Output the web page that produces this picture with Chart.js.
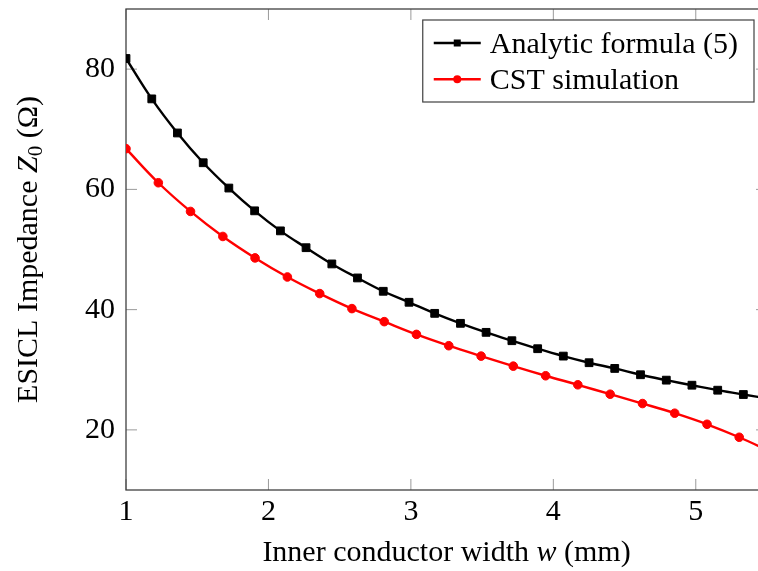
<!DOCTYPE html>
<html>
<head>
<meta charset="utf-8">
<script src="https://cdn.jsdelivr.net/npm/chart.js@4.4.0/dist/chart.umd.min.js"></script>
<style>
  html, body { margin: 0; padding: 0; overflow: hidden; background: #fff; }
  #wrap { width: 780px; height: 571px; }
</style>
</head>
<body>
<div id="wrap"><canvas id="myChart" width="780" height="571"></canvas></div>
<script>
// inner conductor width w (mm) and impedance Z0 (ohm)
const analyticW = [1.000, 1.181, 1.361, 1.542, 1.722, 1.903, 2.084, 2.264, 2.445, 2.625,
                   2.806, 2.987, 3.167, 3.348, 3.528, 3.709, 3.890, 4.070, 4.251, 4.431,
                   4.612, 4.793, 4.973, 5.154, 5.334, 5.515];
const analyticZ = [81.77, 75.05, 69.38, 64.43, 60.22, 56.43, 53.1, 50.3, 47.6, 45.27,
                   43.05, 41.22, 39.38, 37.72, 36.22, 34.83, 33.5, 32.27, 31.17, 30.22,
                   29.17, 28.27, 27.43, 26.6, 25.88, 25.2];
const cstW = [1.000, 1.227, 1.453, 1.680, 1.906, 2.133, 2.360, 2.586, 2.813, 3.039,
              3.266, 3.493, 3.719, 3.946, 4.172, 4.399, 4.626, 4.852, 5.079, 5.305, 5.532];
const cstZ = [66.77, 61.1, 56.33, 52.17, 48.6, 45.43, 42.67, 40.17, 38.0, 35.88,
              34.0, 32.27, 30.6, 29.0, 27.5, 25.93, 24.38, 22.77, 20.93, 18.77, 16.3];
const seriesLabels = ['Analytic formula (5)', 'CST simulation'];
const xTicks = [1, 2, 3, 4, 5];
const yTicks = [20, 40, 60, 80];

const serif = "'Liberation Serif', 'Times New Roman', serif";
const fs = 30;

// draws a run of [text, style] pieces; style '' | 'italic' | 'sub'
function drawRich(ctx, parts, x, y, align) {
  const fontOf = s => s === 'italic' ? `italic ${fs}px ${serif}` :
                      s === 'sub' ? `${Math.round(fs * 0.7)}px ${serif}` : `${fs}px ${serif}`;
  let total = 0;
  parts.forEach(p => { ctx.font = fontOf(p[1]); total += ctx.measureText(p[0]).width; });
  let cx = align === 'center' ? x - total / 2 : x;
  ctx.textAlign = 'left';
  ctx.textBaseline = 'alphabetic';
  parts.forEach(p => {
    ctx.font = fontOf(p[1]);
    ctx.fillText(p[0], cx, p[1] === 'sub' ? y + 5 : y);
    cx += ctx.measureText(p[0]).width;
  });
}

const frame = {
  id: 'frame',
  beforeDatasetsDraw(chart) {
    const {ctx, chartArea: a, scales: {x, y}} = chart;
    ctx.save();
    ctx.strokeStyle = '#9a9a9a';
    ctx.lineWidth = 1;
    ctx.beginPath();
    xTicks.forEach(v => {
      const px = x.getPixelForValue(v);
      ctx.moveTo(px, a.bottom); ctx.lineTo(px, a.bottom - 11);
      ctx.moveTo(px, a.top); ctx.lineTo(px, a.top + 11);
    });
    yTicks.forEach(v => {
      const py = y.getPixelForValue(v);
      ctx.moveTo(a.left, py); ctx.lineTo(a.left + 11, py);
      ctx.moveTo(a.right, py); ctx.lineTo(a.right - 11, py);
    });
    ctx.stroke();
    ctx.strokeStyle = '#404040';
    ctx.lineWidth = 1.3;
    ctx.strokeRect(a.left, a.top, a.right - a.left, a.bottom - a.top);
    ctx.restore();
  },
  afterDraw(chart) {
    const {ctx, chartArea: a} = chart;
    ctx.save();
    ctx.fillStyle = '#000';
    // axis titles
    drawRich(ctx, [['Inner conductor width ', ''], ['w', 'italic'], [' (mm)', '']],
             (a.left + a.right) / 2, 561, 'center');
    ctx.translate(37, (a.top + a.bottom) / 2);
    ctx.rotate(-Math.PI / 2);
    drawRich(ctx, [['ESICL Impedance ', ''], ['Z', 'italic'], ['0', 'sub'], [' (\u03A9)', '']],
             0, 0, 'center');
    ctx.restore();

    // legend box
    ctx.save();
    ctx.font = `${fs}px ${serif}`;
    const tw = Math.max(...seriesLabels.map(t => ctx.measureText(t).width));
    const boxW = 11 + 47 + 9 + tw + 16;
    const boxH = 82;
    const bx = a.right - 13 - boxW;
    const by = a.top + 11;
    ctx.fillStyle = '#fff';
    ctx.fillRect(bx, by, boxW, boxH);
    ctx.strokeStyle = '#404040';
    ctx.lineWidth = 1.2;
    ctx.strokeRect(bx, by, boxW, boxH);
    chart.data.datasets.forEach((ds, i) => {
      const ly = by + 23 + i * 36.3;
      ctx.strokeStyle = ds.borderColor;
      ctx.lineWidth = ds.borderWidth;
      ctx.beginPath();
      ctx.moveTo(bx + 11, ly); ctx.lineTo(bx + 58, ly);
      ctx.stroke();
      ctx.fillStyle = ds.pointBackgroundColor;
      const mx = bx + 34.5;
      if (ds.pointStyle === 'rect') {
        ctx.fillRect(mx - 3.5, ly - 3.5, 7, 7);
      } else {
        ctx.beginPath(); ctx.arc(mx, ly, 4, 0, Math.PI * 2); ctx.fill();
      }
      ctx.fillStyle = '#000';
      ctx.textAlign = 'left';
      ctx.textBaseline = 'alphabetic';
      ctx.fillText(ds.label, bx + 67, ly + 10);
    });
    ctx.restore();
  }
};

new Chart(document.getElementById('myChart'), {
  type: 'line',
  data: {
    datasets: [{
      label: seriesLabels[0],
      data: analyticW.map((w, i) => ({x: w, y: analyticZ[i]})),
      borderColor: '#000000',
      backgroundColor: '#000000',
      borderWidth: 2.4,
      pointStyle: 'rect',
      pointRadius: 5.5,
      pointBorderWidth: 1,
      pointBackgroundColor: '#000000',
      pointBorderColor: '#000000',
      tension: 0.4
    }, {
      label: seriesLabels[1],
      data: cstW.map((w, i) => ({x: w, y: cstZ[i]})),
      borderColor: '#ff0000',
      backgroundColor: '#ff0000',
      borderWidth: 2.4,
      pointStyle: 'circle',
      pointRadius: 4.3,
      pointBorderWidth: 1,
      pointBackgroundColor: '#ff0000',
      pointBorderColor: '#ff0000',
      tension: 0.4
    }]
  },
  options: {
    responsive: false,
    animation: false,
    layout: { padding: { top: 9, right: 13, left: 0, bottom: 0 }, autoPadding: false },
    plugins: { legend: { display: false }, tooltip: { enabled: false } },
    scales: {
      x: {
        type: 'linear',
        min: 1, max: 5.5,
        grid: { display: false, drawTicks: false },
        border: { display: false },
        afterBuildTicks: s => { s.ticks = xTicks.map(v => ({value: v})); },
        afterFit: s => { s.height = 81; s.paddingLeft = 0; s.paddingRight = 0; },
        ticks: { font: { family: serif, size: fs }, color: '#000', padding: 4,
                 maxRotation: 0, autoSkip: false }
      },
      y: {
        type: 'linear',
        min: 10, max: 90,
        grid: { display: false, drawTicks: false },
        border: { display: false },
        afterBuildTicks: s => { s.ticks = yTicks.map(v => ({value: v})); },
        afterFit: s => { s.width = 126; s.paddingTop = 0; s.paddingBottom = 0; },
        ticks: { font: { family: serif, size: fs }, color: '#000', padding: 11 }
      }
    }
  },
  plugins: [frame]
});
</script>
</body>
</html>
